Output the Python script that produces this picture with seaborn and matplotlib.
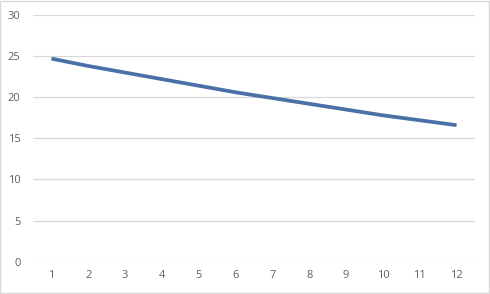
import matplotlib
matplotlib.use("Agg")
import matplotlib.pyplot as plt
import seaborn as sns
import pandas as pd
from matplotlib.patches import Rectangle

months = [1, 2, 3, 4, 5, 6, 7, 8, 9, 10, 11, 12]
values = [24.7, 23.8, 23.0, 22.2, 21.4, 20.6, 19.9, 19.2, 18.5, 17.8, 17.2, 16.6]
y_ticks = [0, 5, 10, 15, 20, 25, 30]

df = pd.DataFrame({"x": months, "y": values})

sns.set_theme(style="white")
plt.rcParams["font.family"] = ["Open Sans", "DejaVu Sans"]

fig = plt.figure(figsize=(4.9, 2.94), dpi=100)
ax = fig.add_axes([33 / 490, 1 - 261.7 / 294, (475 - 33) / 490, (261.7 - 15) / 294])

sns.lineplot(data=df, x="x", y="y", ax=ax, color="#4A70A8", linewidth=2.7,
             solid_capstyle="butt")

ax.set_xlim(0.5, 12.5)
ax.set_ylim(0, 30)
ax.set_xticks(months)
ax.set_xticklabels([str(m) for m in months])
ax.set_yticks(y_ticks)
ax.set_yticklabels([str(t) for t in y_ticks])
ax.set_xlabel("")
ax.set_ylabel("")
ax.grid(axis="y", color="#D9D9D9", linewidth=0.9)
ax.set_axisbelow(True)
for s in ax.spines.values():
    s.set_visible(False)
ax.tick_params(axis="both", length=0, labelsize=8, labelcolor="#606060")
ax.tick_params(axis="y", pad=9)
ax.tick_params(axis="x", pad=6)

fig.patches.append(Rectangle((0.001, 0.002), 0.997, 0.995, transform=fig.transFigure,
                             fill=False, edgecolor="#D9D9D9", linewidth=1.0))

fig.savefig("out.png", dpi=100)
